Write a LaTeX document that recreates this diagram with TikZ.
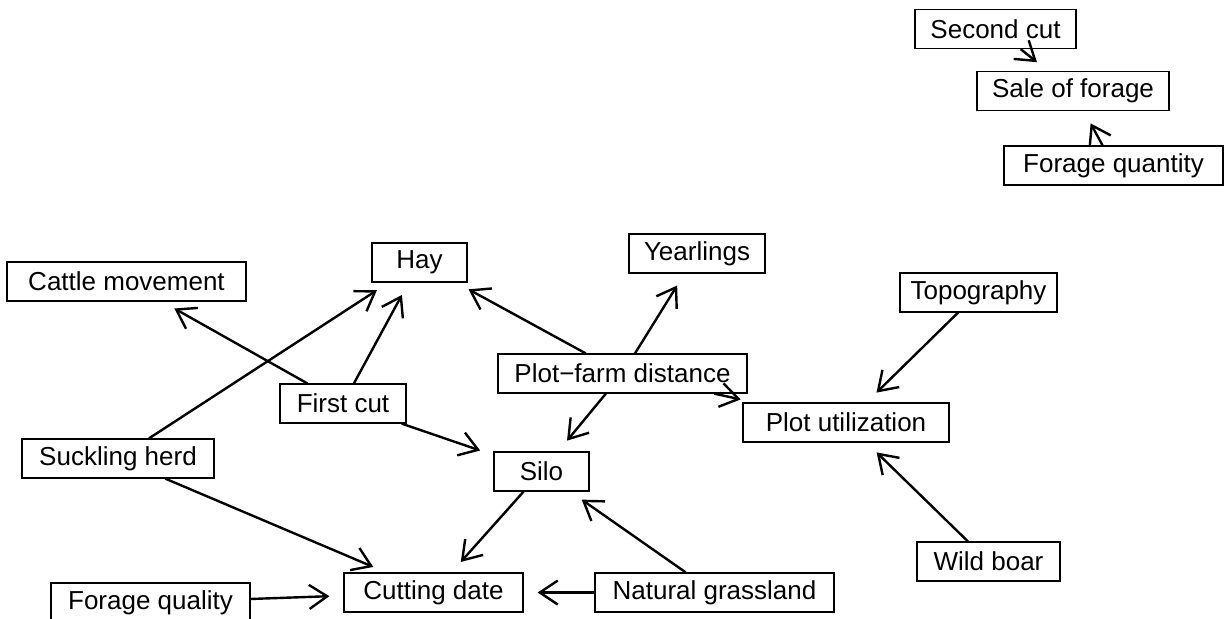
\documentclass[tikz,border=0pt]{standalone}
\usepackage{fontspec}
\setmainfont{Liberation Sans}
\usetikzlibrary{arrows.meta}

\begin{document}
\begin{tikzpicture}[x=0.5pt,y=-0.5pt,
  factor/.style={draw,line width=0.6pt,minimum height=19.5pt,inner sep=0pt,font=\fontsize{13}{15}\selectfont},
  effect/.style={line width=1.2pt,-{Straight Barb[length=9pt,width=12pt,line width=1.2pt]},shorten >=7pt}]
\useasboundingbox (0,0) rectangle (1224,618);
% top right group
\node[factor,minimum width=80.5pt] (secondcut) at (995.5,29) {Second cut};
\node[factor,minimum width=96pt] (sale) at (1073,91) {Sale of forage};
\node[factor,minimum width=109.5pt] (quantity) at (1113.5,165.5) {Forage quantity};
% main graph
\node[factor,minimum width=47.5pt] (hay) at (419.5,262.5) {Hay};
\node[factor,minimum width=68pt] (yearlings) at (697,253.5) {Yearlings};
\node[factor,minimum width=119.5pt] (cattle) at (126.5,281.5) {Cattle movement};
\node[factor,minimum width=78.5pt] (topo) at (978.5,292.5) {Topography};
\node[factor,minimum width=124.5pt] (plotfarm) at (622.5,373.5) {Plot−farm distance};
\node[factor,minimum width=63pt] (firstcut) at (343,403.5) {First cut};
\node[factor,minimum width=103pt] (plotutil) at (846,422.5) {Plot utilization};
\node[factor,minimum width=96pt] (suckling) at (118,458.5) {Suckling herd};
\node[factor,minimum width=47.5pt] (silo) at (541.5,471.5) {Silo};
\node[factor,minimum width=71.5pt] (boar) at (988.5,561.5) {Wild boar};
\node[factor,minimum width=89.5pt] (cutting) at (433.5,592.5) {Cutting date};
\node[factor,minimum width=119.5pt] (natural) at (714.5,592.5) {Natural grassland};
\node[factor,minimum width=99.5pt] (quality) at (150.5,602.5) {Forage quality};

\draw[effect] (secondcut) -- (sale);
\draw[effect] (quantity) -- (sale);
\draw[effect] (firstcut) -- (hay);
\draw[effect] (suckling) -- (hay);
\draw[effect] (firstcut) -- (cattle);
\draw[effect] (plotfarm) -- (hay);
\draw[effect] (plotfarm) -- (yearlings);
\draw[effect] (plotfarm) -- (silo);
\draw[effect] (plotfarm) -- (plotutil);
\draw[effect] (firstcut) -- (silo);
\draw[effect] (topo) -- (plotutil);
\draw[effect] (boar) -- (plotutil);
\draw[effect] (suckling) -- (cutting);
\draw[effect] (silo) -- (cutting);
\draw[effect] (natural) -- (silo);
\draw[effect] (natural) -- (cutting);
\draw[effect] (quality) -- (cutting);
\end{tikzpicture}
\end{document}
